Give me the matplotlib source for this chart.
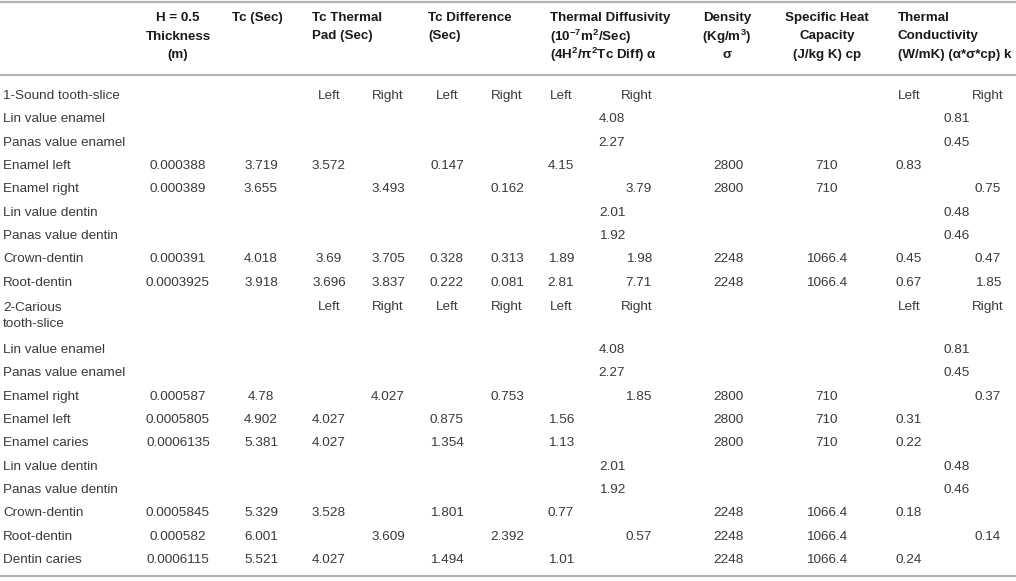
import matplotlib
matplotlib.use("Agg")
import matplotlib.pyplot as plt

plt.rcParams['font.family'] = ['Liberation Sans', 'DejaVu Sans']
plt.rcParams['mathtext.default'] = 'regular'

# table content, one list per column ("" = empty cell)
labels = ["1-Sound tooth-slice", "Lin value enamel", "Panas value enamel",
          "Enamel left", "Enamel right", "Lin value dentin", "Panas value dentin",
          "Crown-dentin", "Root-dentin", "2-Carious\ntooth-slice",
          "Lin value enamel", "Panas value enamel", "Enamel right", "Enamel left",
          "Enamel caries", "Lin value dentin", "Panas value dentin",
          "Crown-dentin", "Root-dentin", "Dentin caries"]
thickness = ["", "", "", "0.000388", "0.000389", "", "", "0.000391", "0.0003925", "",
             "", "", "0.000587", "0.0005805", "0.0006135", "", "", "0.0005845", "0.000582", "0.0006115"]
tc = ["", "", "", "3.719", "3.655", "", "", "4.018", "3.918", "",
      "", "", "4.78", "4.902", "5.381", "", "", "5.329", "6.001", "5.521"]
pad_left = ["Left", "", "", "3.572", "", "", "", "3.69", "3.696", "Left",
            "", "", "", "4.027", "4.027", "", "", "3.528", "", "4.027"]
pad_right = ["Right", "", "", "", "3.493", "", "", "3.705", "3.837", "Right",
             "", "", "4.027", "", "", "", "", "", "3.609", ""]
diff_left = ["Left", "", "", "0.147", "", "", "", "0.328", "0.222", "Left",
             "", "", "", "0.875", "1.354", "", "", "1.801", "", "1.494"]
diff_right = ["Right", "", "", "", "0.162", "", "", "0.313", "0.081", "Right",
              "", "", "0.753", "", "", "", "", "", "2.392", ""]
alpha_left = ["Left", "", "", "4.15", "", "", "", "1.89", "2.81", "Left",
              "", "", "", "1.56", "1.13", "", "", "0.77", "", "1.01"]
alpha_ref = ["", "4.08", "2.27", "", "", "2.01", "1.92", "", "", "",
             "4.08", "2.27", "", "", "", "2.01", "1.92", "", "", ""]
alpha_right = ["Right", "", "", "", "3.79", "", "", "1.98", "7.71", "Right",
               "", "", "1.85", "", "", "", "", "", "0.57", ""]
density = ["", "", "", "2800", "2800", "", "", "2248", "2248", "",
           "", "", "2800", "2800", "2800", "", "", "2248", "2248", "2248"]
cp = ["", "", "", "710", "710", "", "", "1066.4", "1066.4", "",
      "", "", "710", "710", "710", "", "", "1066.4", "1066.4", "1066.4"]
k_left = ["Left", "", "", "0.83", "", "", "", "0.45", "0.67", "Left",
          "", "", "", "0.31", "0.22", "", "", "0.18", "", "0.24"]
k_ref = ["", "0.81", "0.45", "", "", "0.48", "0.46", "", "", "",
         "0.81", "0.45", "", "", "", "0.48", "0.46", "", "", ""]
k_right = ["Right", "", "", "", "0.75", "", "", "0.47", "1.85", "Right",
           "", "", "0.37", "", "", "", "", "", "0.14", ""]

headers = [
    ["H = 0.5", "Thickness", "(m)"],
    ["Tc (Sec)"],
    ["Tc Thermal", "Pad (Sec)"],
    ["Tc Difference", "(Sec)"],
    ["Thermal Diffusivity", "(10$^{-7}$m$^{2}$/Sec)", "(4H$^{2}$/π$^{2}$Tc Diff) α"],
    ["Density", "(Kg/m$^{3}$)", "σ"],
    ["Specific Heat", "Capacity", "(J/kg K) cp"],
    ["Thermal", "Conductivity", "(W/mK) (α*σ*cp) k"],
]

W, H = 1016, 581
fig = plt.figure(figsize=(W / 100, H / 100), dpi=100)
ax = fig.add_axes([0, 0, 1, 1])
ax.set_xlim(0, W)
ax.set_ylim(H, 0)
ax.axis('off')

body_col = '#3a3a3a'
head_col = '#1a1a1a'
rule_col = '#b4b4b4'
fs_body = 9.7
fs_head = 9.6

# horizontal rules
for y in (2, 75, 576):
    ax.plot([0, W], [y, y], color=rule_col, lw=1.6, solid_capstyle='butt')

# headers: (x, ha)
head_pos = [(178, 'center'), (232, 'left'), (312, 'left'), (428, 'left'),
            (550, 'left'), (727, 'center'), (827, 'center'), (898, 'left')]
head_y = [18, 36.5, 55]
for lines, (x, ha) in zip(headers, head_pos):
    for y, line in zip(head_y, lines):
        ax.text(x, y, line, ha=ha, va='center', fontsize=fs_head,
                fontweight='bold', color=head_col)

# row positions
row_y = [96 + 23.35 * i for i in range(9)] + [316] + [350 + 23.35 * i for i in range(10)]

columns = [
    (labels, 3, 'left'),
    (thickness, 178, 'center'),
    (tc, 261, 'center'),
    (pad_left, 329, 'center'),
    (pad_right, 388, 'center'),
    (diff_left, 447, 'center'),
    (diff_right, 507, 'center'),
    (alpha_left, 561, 'center'),
    (alpha_ref, 612, 'center'),
    (alpha_right, 652, 'right'),
    (density, 728, 'center'),
    (cp, 827, 'center'),
    (k_left, 909, 'center'),
    (k_ref, 957, 'center'),
    (k_right, 988, 'center'),
]

for values, x, ha in columns:
    for i, (y, v) in enumerate(zip(row_y, values)):
        if not v:
            continue
        yy = y
        if i == 9 and values is not labels:
            yy = 307   # Left/Right sit on the first line of the two-line label
        ax.text(x, yy, v, ha=ha, va='center', fontsize=fs_body,
                color=body_col, linespacing=1.5)

fig.savefig("out.png", dpi=100)
